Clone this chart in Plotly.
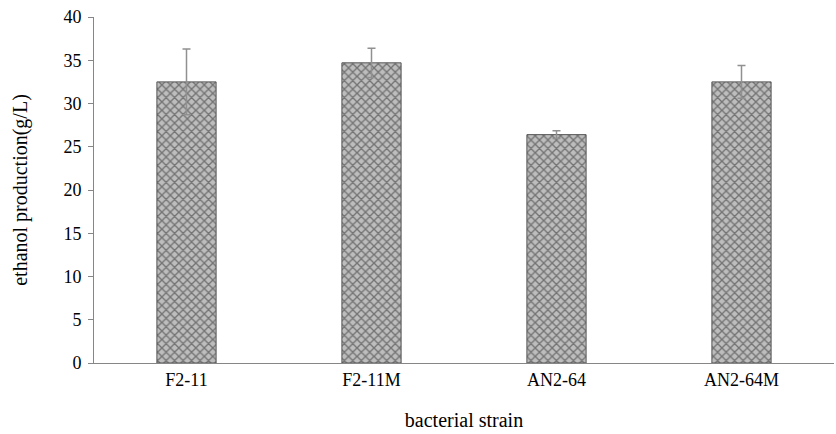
import plotly.graph_objects as go

strains = ["F2-11", "F2-11M", "AN2-64", "AN2-64M"]
ethanol = [32.5, 34.7, 26.4, 32.5]
errors = [3.8, 1.7, 0.45, 1.9]
y_ticks = [0, 5, 10, 15, 20, 25, 30, 35, 40]

font_family = "Liberation Serif, Times New Roman, serif"

fig = go.Figure()
fig.add_trace(go.Bar(
    x=strains,
    y=ethanol,
    width=0.32,
    marker=dict(
        color="#9a9a9a",
        line=dict(color="#555555", width=1),
        pattern=dict(shape="x", fgcolor="#2a2a2a", bgcolor="#bdbdbd", size=6, solidity=0.4),
    ),
    error_y=dict(type="data", array=errors, visible=True, color="#909090", thickness=1.5, width=4),
))

fig.update_layout(
    width=836, height=434,
    margin=dict(l=94, r=2, t=17, b=71),
    plot_bgcolor="white", paper_bgcolor="white",
    font=dict(family=font_family, size=18, color="#000000"),
    showlegend=False,
    xaxis=dict(
        title=dict(text="bacterial strain", font=dict(size=20), standoff=24),
        showline=True, linecolor="#868686", linewidth=1,
        ticks="", showgrid=False,
        tickfont=dict(size=18),
    ),
    yaxis=dict(
        title=dict(text="ethanol production(g/L)", font=dict(size=20), standoff=30),
        range=[0, 40], tickvals=y_ticks,
        showline=True, linecolor="#868686", linewidth=1,
        ticks="outside", ticklen=5, tickcolor="#868686",
        showgrid=False, zeroline=False,
        tickfont=dict(size=18), ticklabelstandoff=3,
    ),
)

fig.write_html("out.html")
